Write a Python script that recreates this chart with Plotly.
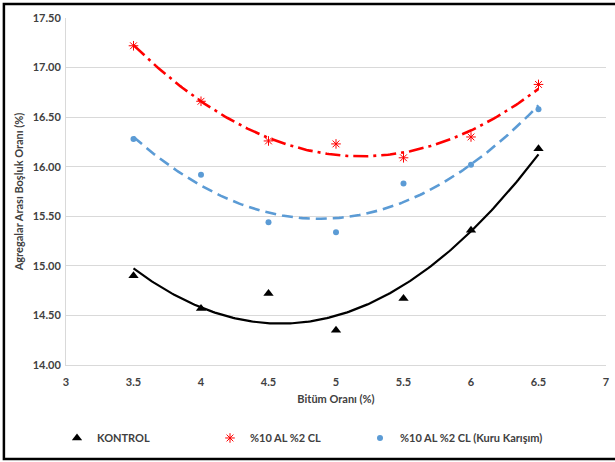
import numpy as np
import plotly.graph_objects as go

bitum = [3.5, 4.0, 4.5, 5.0, 5.5, 6.0, 6.5]
kontrol = [14.90, 14.57, 14.72, 14.35, 14.67, 15.36, 16.18]
al_cl = [17.22, 16.66, 16.26, 16.23, 16.09, 16.30, 16.83]
al_cl_kuru = [16.28, 15.92, 15.44, 15.34, 15.83, 16.02, 16.58]

names = ["KONTROL", "%10 AL %2 CL", "%10 AL %2 CL (Kuru Karışım)"]

FONT = "Lato"
TXT = "#404040"

fig = go.Figure()

xs = np.linspace(min(bitum), max(bitum), 200)

def trend(y):
    c = np.polyfit(bitum, y, 2)
    return np.polyval(c, xs)

# polynomial trendlines (order 2) computed from the data
fig.add_trace(go.Scatter(x=xs, y=trend(kontrol), mode="lines",
                         line=dict(color="black", width=2.2), showlegend=False, hoverinfo="skip"))
fig.add_trace(go.Scatter(x=xs, y=trend(al_cl), mode="lines",
                         line=dict(color="#ff0000", width=2.6, dash="15px,5px,3px,5px"),
                         showlegend=False, hoverinfo="skip"))
fig.add_trace(go.Scatter(x=xs, y=trend(al_cl_kuru), mode="lines",
                         line=dict(color="#5b9bd5", width=2.6, dash="11px,6px"),
                         showlegend=False, hoverinfo="skip"))

# markers, each with its own legend so entries can be placed precisely
fig.add_trace(go.Scatter(x=bitum, y=kontrol, mode="markers", name=names[0], legend="legend",
                         marker=dict(symbol="triangle-up", size=9, color="black")))
fig.add_trace(go.Scatter(x=bitum, y=al_cl, mode="markers", name=names[1], legend="legend2",
                         marker=dict(symbol="asterisk-open", size=8, color="#ff0000",
                                     line=dict(color="#ff0000", width=1))))
fig.add_trace(go.Scatter(x=bitum, y=al_cl_kuru, mode="markers", name=names[2], legend="legend3",
                         marker=dict(symbol="circle", size=6, color="#5b9bd5")))

def leg(xpx):
    return dict(orientation="h", xref="container", yref="container",
                x=xpx / 615, xanchor="left", y=0.052, yanchor="middle",
                font=dict(family=FONT, size=11, color=TXT, weight="bold"),
                itemwidth=30, bgcolor="rgba(0,0,0,0)")

fig.update_layout(
    width=615, height=462,
    margin=dict(l=66, r=9, t=18, b=97, autoexpand=False),
    paper_bgcolor="white", plot_bgcolor="white",
    font=dict(family=FONT, size=11, color=TXT),
    xaxis=dict(range=[3, 7], dtick=0.5, tick0=3, showgrid=False, zeroline=False,
               showline=True, linecolor="#d9d9d9", linewidth=1, automargin=False,
               ticklabelstandoff=7,
               tickfont=dict(family=FONT, size=11, color=TXT, weight="bold"),
               title=dict(text="Bitüm Oranı (%)", standoff=8,
                          font=dict(family=FONT, size=11, color=TXT, weight="bold"))),
    yaxis=dict(range=[14, 17.5], dtick=0.5, tick0=14, tickformat=".2f",
               showgrid=True, gridcolor="#d9d9d9", gridwidth=1, zeroline=False,
               showline=True, linecolor="#d9d9d9", linewidth=1, automargin=False,
               ticklabelstandoff=2,
               tickfont=dict(family=FONT, size=11, color=TXT, weight="bold"),
               title=dict(text="Agregalar Arası Boşluk Oranı (%)", standoff=6,
                          font=dict(family=FONT, size=11, color=TXT, weight="bold"))),
    legend=leg(57),
    legend2=leg(210),
    legend3=leg(360),
    shapes=[dict(type="rect", xref="paper", yref="paper",
                 x0=-0.115, x1=1.2, y0=-0.271, y1=1.040,
                 line=dict(color="black", width=2.5), layer="above")],
)

fig.write_html("out.html", config={"displayModeBar": False},
               post_script="document.body.style.margin='0';")
